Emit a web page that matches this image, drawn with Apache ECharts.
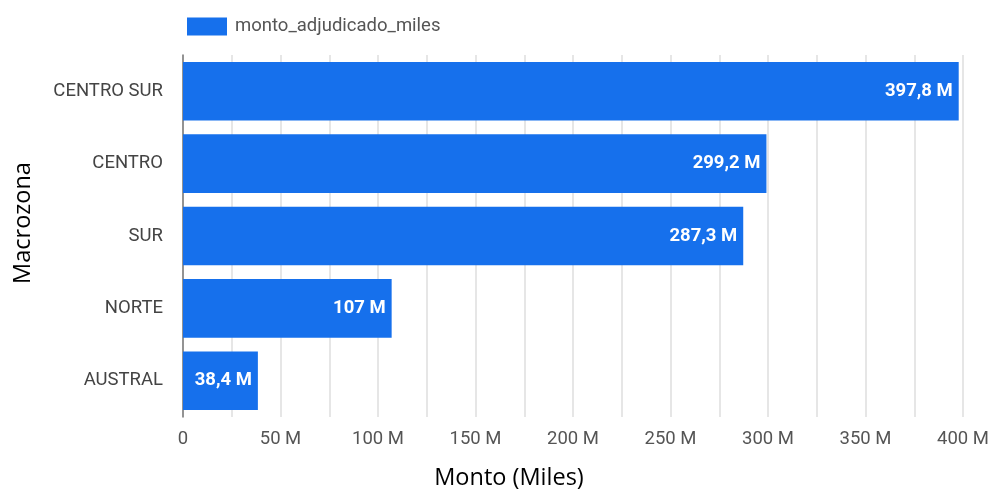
<!DOCTYPE html>
<html><head><meta charset="utf-8">
<script src="https://cdn.jsdelivr.net/npm/echarts@6/dist/echarts.min.js"></script>
<style>html,body{margin:0;padding:0;background:#fff}#c{width:994px;height:495px}</style>
</head><body><div id="c"></div>
<script>
var categories = ['CENTRO SUR', 'CENTRO', 'SUR', 'NORTE', 'AUSTRAL'];
var values = [397.8, 299.2, 287.3, 107, 38.4];
var seriesName = 'monto_adjudicado_miles';
var xTitle = 'Monto (Miles)';
var yTitle = 'Macrozona';

function fmt(v) {
  return (Math.round(v * 10) / 10).toString().replace('.', ',') + ' M';
}

var chart = echarts.init(document.getElementById('c'));
chart.setOption({
  animation: false,
  legend: {
    left: 182, top: 12, itemWidth: 40, itemHeight: 18, itemGap: 8, icon: 'rect',
    textStyle: { fontFamily: 'Roboto', fontSize: 18.5, color: '#555', padding: [0, 0, 0, 3] },
    data: [seriesName]
  },
  grid: { left: 183, right: 31, top: 55, bottom: 74 },
  xAxis: {
    type: 'value', min: 0, max: 400, interval: 50,
    name: xTitle, nameLocation: 'middle', nameGap: 49,
    nameTextStyle: { fontFamily: 'Open Sans', fontSize: 23.5, color: '#000', padding: [0, 128, 0, 0] },
    axisLine: { show: false }, axisTick: { show: false },
    axisLabel: { fontFamily: 'Roboto', fontSize: 18.5, color: '#555', margin: 13,
      formatter: function (v) { return v === 0 ? '0' : v + ' M'; } },
    splitLine: { show: true, lineStyle: { color: '#dedede', width: 1.5 } },
    minorTick: { show: false, splitNumber: 2 },
    minorSplitLine: { show: true, lineStyle: { color: '#dedede', width: 1.5 } }
  },
  yAxis: {
    type: 'category', data: categories, inverse: true,
    name: yTitle, nameLocation: 'middle', nameGap: 148, nameRotate: 90,
    nameTextStyle: { fontFamily: 'Open Sans', fontSize: 23.5, color: '#000', padding: [0, 0, 0, 26] },
    axisLine: { show: true, lineStyle: { color: '#777', width: 1.5 } },
    axisTick: { show: false },
    axisLabel: { fontFamily: 'Roboto', fontSize: 18.5, color: '#444', margin: 20 }
  },
  series: [{
    name: seriesName, type: 'bar', data: values,
    barCategoryGap: '19%',
    itemStyle: { color: '#1670ec' },
    label: { show: true, position: 'insideRight', distance: 6,
      color: '#fff', fontFamily: 'Roboto', fontWeight: 'bold', fontSize: 18.5,
      formatter: function (p) { return fmt(p.value); } }
  }]
});
</script></body></html>
